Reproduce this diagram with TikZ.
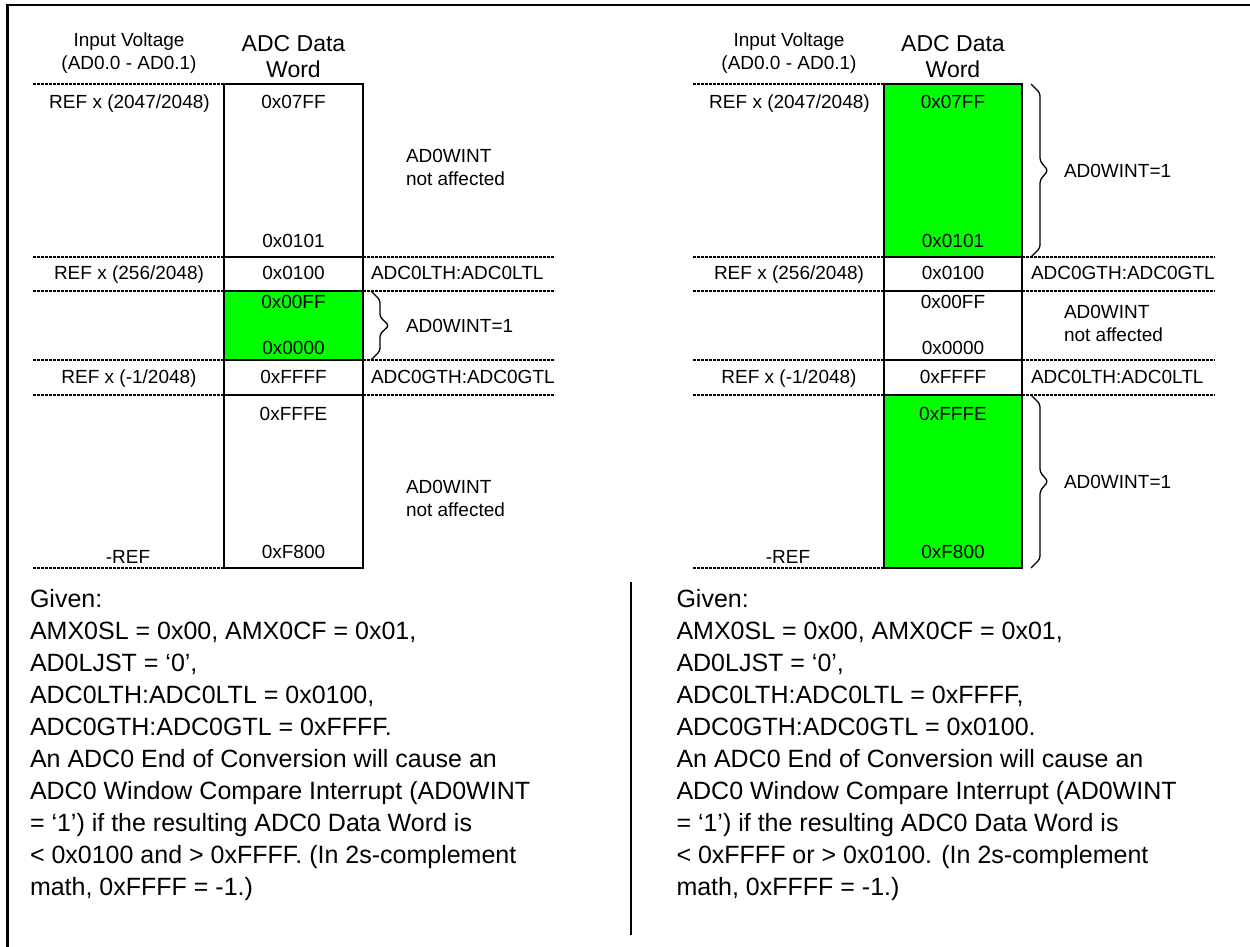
\documentclass[tikz,border=0pt]{standalone}
\usepackage{fontspec}
\setmainfont{Liberation Sans}
\newcommand{\mylinesl}[1]{\begin{tabular}[t]{@{}l@{}}#1\end{tabular}}
\newcommand{\mylinesc}[1]{\begin{tabular}[t]{@{}c@{}}#1\end{tabular}}
\definecolor{wingreen}{RGB}{0,255,0}
\begin{document}
\begin{tikzpicture}[x=1pt,y=-1pt,
  lbl/.style={inner sep=0pt, outer sep=0pt, font=\fontsize{19}{23}\selectfont, anchor=base},
  lblw/.style={lbl, anchor=base west},
  hdrb/.style={lbl, font=\fontsize{23}{26}\selectfont},
  para/.style={inner sep=0pt, outer sep=0pt, anchor=base west, font=\fontsize{25}{32}\selectfont},
  gridline/.style={dash pattern=on 2.7pt off 1.3pt, line width=1.1pt},
  boxline/.style={line width=1.3pt},
  bracel/.style={line width=1.3pt, rounded corners=3pt},
  frameline/.style={line width=2.2pt},
]
\useasboundingbox (0,0) rectangle (1250,947);
\fill[white] (0,0) rectangle (1250,947);

% outer frame
\coordinate (fbl) at (7.5,947);
\coordinate (ftl) at (7.5,5);
\coordinate (ftr) at (1250,5);
\draw[frameline] (fbl) -- (ftl) -- (ftr);

% separator
\coordinate (sept) at (631,582);
\coordinate (sepb) at (631,935);
\draw[frameline] (sept) -- (sepb);

% ===== green fills =====
\fill[wingreen] (224,291) rectangle (363,360);
\fill[wingreen] (884,84) rectangle (1022,257);
\fill[wingreen] (884,395) rectangle (1022,568);

% ===== dashed level lines =====
\foreach \y in {84,257,291,360,395,568} {
  \draw[gridline] (33,\y) -- (224,\y);
  \draw[gridline] (693,\y) -- (884,\y);
}
\foreach \y in {257,291,360,395} {
  \draw[gridline] (363,\y) -- (555,\y);
  \draw[gridline] (1022,\y) -- (1215,\y);
}

% ===== data word columns =====
\draw[boxline] (224,84) rectangle (363,568);
\draw[boxline] (884,84) rectangle (1022,568);
\foreach \y in {257,291,360,395} {
  \draw[boxline] (224,\y) -- (363,\y);
  \draw[boxline] (884,\y) -- (1022,\y);
}

% ===== braces =====
\draw[bracel] (371,291) -- (380,300) -- (380,317) -- (389,325.5) -- (380,334) -- (380,351) -- (371,360);
\draw[bracel] (1031,84) -- (1040,93) -- (1040,161) -- (1048,170.5) -- (1040,180) -- (1040,248) -- (1031,257);
\draw[bracel] (1031,395) -- (1040,404) -- (1040,472) -- (1048,481.5) -- (1040,491) -- (1040,559) -- (1031,568);

% ===== left panel texts =====
\node[lbl] (Lhin) at (129,47) {\mylinesc{Input Voltage\\(AD0.0 - AD0.1)}};
\node[hdrb] (Lhadc) at (293.5,52) {\mylinesc{ADC Data\\Word}};
\node[lbl] (Lr1) at (129.5,109) {REF x (2047/2048)};
\node[lbl] (Lw1) at (293.5,109) {0x07FF};
\node[lbl] (Lw2) at (293.5,247) {0x0101};
\node[lblw] (Lna1) at (406,163) {\mylinesl{AD0WINT\\not affected}};
\node[lbl] (Lr2) at (129,279) {REF x (256/2048)};
\node[lbl] (Lw3) at (293.5,279) {0x0100};
\node[lblw] (Llt) at (371,279) {ADC0LTH:ADC0LTL};
\node[lbl] (Lw4) at (293.5,308) {0x00FF};
\node[lbl] (Lw5) at (293.5,354) {0x0000};
\node[lblw] (Lint) at (406,332) {AD0WINT=1};
\node[lbl] (Lr3) at (129,383) {REF x (-1/2048)};
\node[lbl] (Lw6) at (293.5,383) {0xFFFF};
\node[lblw] (Lgt) at (371,383) {ADC0GTH:ADC0GTL};
\node[lbl] (Lw7) at (293.5,420) {0xFFFE};
\node[lblw] (Lna2) at (406,493) {\mylinesl{AD0WINT\\not affected}};
\node[lbl] (Lw8) at (293.5,558) {0xF800};
\node[lbl] (Lr4) at (128,563) {-REF};

% ===== right panel texts =====
\node[lbl] (Rhin) at (789,47) {\mylinesc{Input Voltage\\(AD0.0 - AD0.1)}};
\node[hdrb] (Rhadc) at (953,52) {\mylinesc{ADC Data\\Word}};
\node[lbl] (Rr1) at (789.5,109) {REF x (2047/2048)};
\node[lbl] (Rw1) at (953,109) {0x07FF};
\node[lbl] (Rw2) at (953,247) {0x0101};
\node[lblw] (Rint1) at (1064,177) {AD0WINT=1};
\node[lbl] (Rr2) at (789,279) {REF x (256/2048)};
\node[lbl] (Rw3) at (953,279) {0x0100};
\node[lblw] (Rgt) at (1031,279) {ADC0GTH:ADC0GTL};
\node[lbl] (Rw4) at (953,308) {0x00FF};
\node[lbl] (Rw5) at (953,354) {0x0000};
\node[lblw] (Rna) at (1064,318) {\mylinesl{AD0WINT\\not affected}};
\node[lbl] (Rr3) at (789,383) {REF x (-1/2048)};
\node[lbl] (Rw6) at (953,383) {0xFFFF};
\node[lblw] (Rlt) at (1031,383) {ADC0LTH:ADC0LTL};
\node[lbl] (Rw7) at (953,420) {0xFFFE};
\node[lblw] (Rint2) at (1064,488) {AD0WINT=1};
\node[lbl] (Rw8) at (953,558) {0xF800};
\node[lbl] (Rr4) at (788,563) {-REF};

% ===== explanations =====
\node[para] (Lgiven) at (30,607) {\mylinesl{Given:\\AMX0SL = 0x00, AMX0CF = 0x01,\\AD0LJST = ‘0’,\\ADC0LTH:ADC0LTL = 0x0100,\\ADC0GTH:ADC0GTL = 0xFFFF.\\An ADC0 End of Conversion will cause an\\ADC0 Window Compare Interrupt (AD0WINT\\= ‘1’) if the resulting ADC0 Data Word is\\< 0x0100 and > 0xFFFF. (In 2s-complement\\math, 0xFFFF = -1.)}};
\node[para] (Rgiven) at (676.5,607) {\mylinesl{Given:\\AMX0SL = 0x00, AMX0CF = 0x01,\\AD0LJST = ‘0’,\\ADC0LTH:ADC0LTL = 0xFFFF,\\ADC0GTH:ADC0GTL = 0x0100.\\An ADC0 End of Conversion will cause an\\ADC0 Window Compare Interrupt (AD0WINT\\= ‘1’) if the resulting ADC0 Data Word is\\< 0xFFFF or > 0x0100. (In 2s-complement\\math, 0xFFFF = -1.)}};
\end{tikzpicture}
\end{document}
